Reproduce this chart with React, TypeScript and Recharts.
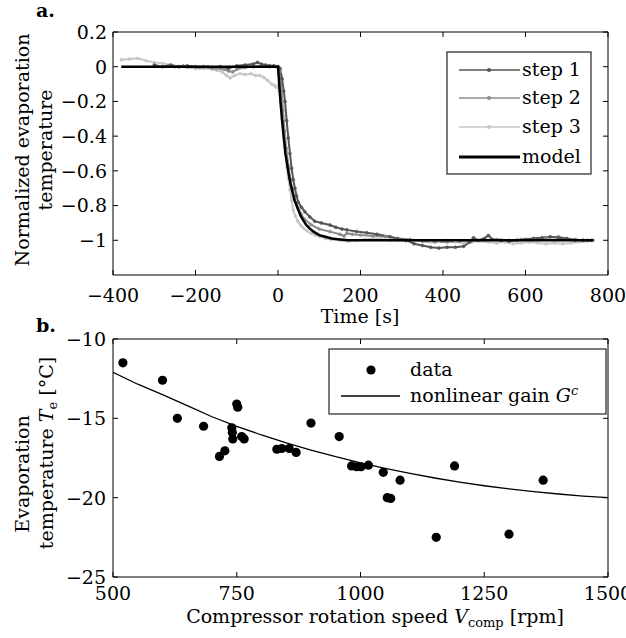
import React from "react";
import { ComposedChart, Line, Scatter, XAxis, YAxis, ReferenceLine } from "recharts";

const FONT = "'DejaVu Serif', serif";
const FS = 19;

// (a) normalized step responses: [time s, value]
const STEP1: [number, number][] = [
  [-300, 0.01], [-280, 0.0], [-260, 0.01], [-240, 0.0], [-220, 0.005], [-200, 0.0],
  [-180, 0.0], [-160, -0.005], [-140, 0.0], [-120, -0.01], [-100, 0.005], [-80, 0.01],
  [-60, 0.015], [-50, 0.025], [-40, 0.015], [-30, 0.01], [-20, 0.005], [-10, 0.005],
  [0, 0.0], [5, -0.01], [10, -0.07], [14, -0.14], [17, -0.2], [21, -0.31], [25, -0.41],
  [29, -0.5], [33, -0.585], [37, -0.65], [41, -0.7], [45, -0.745], [49, -0.78], [57, -0.81],
  [65, -0.835], [77, -0.865], [89, -0.89], [105, -0.9], [126, -0.912], [140, -0.925],
  [155, -0.935], [167, -0.94], [190, -0.95], [215, -0.956], [240, -0.965], [272, -0.979],
  [290, -0.99], [312, -1.0], [330, -1.02], [350, -1.03], [370, -1.04], [390, -1.045],
  [410, -1.04], [430, -1.04], [450, -1.035], [465, -1.01], [474, -0.985], [485, -1.0],
  [500, -0.99], [510, -0.972], [520, -0.995], [540, -1.0], [560, -1.005], [580, -1.0],
  [600, -0.995], [620, -0.99], [640, -0.985], [660, -0.98], [680, -0.985], [700, -0.99],
  [720, -1.0], [740, -1.0], [760, -1.0],
];

const STEP2: [number, number][] = [
  [-250, 0.0], [-230, 0.005], [-210, 0.0], [-190, -0.005], [-170, 0.0], [-150, -0.01],
  [-130, -0.015], [-120, -0.025], [-110, -0.03], [-100, -0.015], [-80, -0.005], [-60, 0.0],
  [-40, 0.005], [-20, 0.0], [-5, 0.0], [0, 0.0], [4, -0.03], [8, -0.12], [12, -0.25],
  [16, -0.37], [20, -0.47], [25, -0.57], [30, -0.65], [35, -0.71], [40, -0.76], [48, -0.81],
  [56, -0.85], [65, -0.88], [80, -0.91], [100, -0.935], [126, -0.95], [150, -0.965],
  [160, -0.975], [167, -0.96], [180, -0.965], [200, -0.97], [230, -0.975], [260, -0.98],
  [290, -0.99], [320, -0.995], [350, -1.005], [380, -1.01], [410, -1.01], [440, -1.005],
  [470, -1.0], [500, -1.0], [530, -0.995], [560, -1.0], [590, -0.995], [620, -0.99],
  [650, -0.985], [680, -0.98], [700, -0.99], [720, -0.995], [740, -1.0], [750, -1.0],
];

const STEP3: [number, number][] = [
  [-380, 0.04], [-360, 0.045], [-340, 0.048], [-320, 0.035], [-300, 0.025], [-280, 0.02],
  [-260, 0.01], [-240, 0.0], [-220, -0.005], [-200, -0.01], [-180, -0.01], [-160, -0.015],
  [-148, -0.02], [-135, -0.03], [-125, -0.05], [-116, -0.065], [-105, -0.05], [-92, -0.04],
  [-80, -0.045], [-65, -0.04], [-55, -0.05], [-44, -0.05], [-35, -0.06], [-25, -0.08],
  [-15, -0.1], [-8, -0.11], [-3, -0.12], [0, -0.11], [3, -0.14], [6, -0.2], [10, -0.3],
  [14, -0.4], [18, -0.5], [22, -0.58], [25, -0.64], [29, -0.71], [33, -0.77], [37, -0.826],
  [42, -0.86], [48, -0.89], [55, -0.915], [62, -0.93], [70, -0.945], [80, -0.96],
  [90, -0.97], [102, -0.98], [115, -0.99], [130, -0.995], [150, -1.0], [170, -1.005],
  [190, -1.0], [210, -0.995], [230, -0.99], [250, -0.995], [270, -1.0], [290, -1.0],
  [310, -1.005], [330, -1.0], [350, -1.005], [370, -1.01], [390, -1.005], [410, -1.0],
  [430, -1.01], [450, -1.015], [470, -1.01], [490, -1.005], [510, -1.01], [530, -1.015],
  [550, -1.01], [570, -1.02], [590, -1.015], [610, -1.01], [630, -1.015], [650, -1.02],
  [670, -1.015], [690, -1.02], [710, -1.015], [730, -1.01], [750, -1.005], [765, -1.0],
];

const MODEL: [number, number][] = [
  [-380, 0], [0, 0], [3, -0.1], [6, -0.2], [10, -0.31], [14, -0.41], [18, -0.5],
  [22, -0.56], [26, -0.62], [30, -0.67], [35, -0.72], [40, -0.77], [45, -0.8], [50, -0.83],
  [55, -0.86], [60, -0.88], [68, -0.91], [76, -0.93], [86, -0.95], [100, -0.97],
  [115, -0.98], [130, -0.99], [150, -0.995], [170, -1.0], [765, -1.0],
];

const TIME_TICKS = [-400, -200, 0, 200, 400, 600, 800];
const NORM_TICKS = [-1, -0.8, -0.6, -0.4, -0.2, 0, 0.2];

// (b) evaporation temperature vs compressor speed
const SPEED = [520, 600, 630, 683, 715, 726, 740, 741, 742, 750, 752, 760, 765, 831, 841, 856,
  870, 900, 957, 982, 992, 1001, 1016, 1046, 1054, 1061, 1080, 1153, 1190, 1300, 1369];
const TEVAP = [-11.5, -12.6, -15.0, -15.5, -17.4, -17.05, -15.6, -15.9, -16.3, -14.1, -14.3,
  -16.15, -16.3, -16.95, -16.9, -16.9, -17.15, -15.3, -16.15, -18.0, -18.05, -18.05, -17.95,
  -18.4, -20.0, -20.05, -18.9, -22.5, -18.0, -22.3, -18.9];

const GAIN_SPEED = [500, 550, 600, 650, 700, 750, 800, 850, 900, 950, 1000, 1050, 1100, 1150,
  1200, 1250, 1300, 1350, 1400, 1450, 1500];
const GAIN_TEMP = [-12.1, -12.85, -13.5, -14.2, -14.9, -15.5, -16.05, -16.55, -17.0, -17.42,
  -17.8, -18.15, -18.47, -18.76, -19.02, -19.25, -19.45, -19.62, -19.77, -19.9, -20.0];

const SPEED_TICKS = [500, 750, 1000, 1250, 1500];
const TEMP_TICKS = [-25, -20, -15, -10];

const toPts = (a: [number, number][]) => a.map(([t, v]) => ({ t, v }));
const fmt = (v: number) => (v < 0 ? "\u2212" : "") + String(Math.abs(v));

const W = 495;

function xTick(h: number, off: number) {
  return (props: any) => {
    const { x, y, payload } = props;
    return (
      <g>
        <line x1={x} x2={x} y1={y} y2={y - 5} stroke="#000" />
        <line x1={x} x2={x} y1={y - h} y2={y - h + 5} stroke="#000" />
        <text x={x} y={y + off} textAnchor="middle" fontFamily={FONT} fontSize={FS} fill="#000">
          {fmt(payload.value)}
        </text>
      </g>
    );
  };
}

function yTick(gap: number) {
  return (props: any) => {
    const { x, y, payload } = props;
    return (
      <g>
        <line x1={x} x2={x + 5} y1={y} y2={y} stroke="#000" />
        <line x1={x + W} x2={x + W - 5} y1={y} y2={y} stroke="#000" />
        <text x={x - gap} y={y} dy="0.36em" textAnchor="end" fontFamily={FONT} fontSize={FS} fill="#000">
          {fmt(payload.value)}
        </text>
      </g>
    );
  };
}

const dotOf = (c: string) => ({ r: 1.5, fill: c, stroke: c, strokeWidth: 0.5 });

const TOP_MARGIN = { top: 32, right: 18, bottom: 10, left: 53 };

function TopChart() {
  return (
    <ComposedChart width={626} height={330} margin={TOP_MARGIN}>
      <XAxis type="number" dataKey="t" domain={[-400, 800]} ticks={TIME_TICKS} interval={0}
        allowDataOverflow height={45} tickSize={0} tickMargin={0} tickLine={false}
        axisLine={{ stroke: "#000" }} tick={xTick(243, 27)} />
      <YAxis type="number" domain={[-1.2, 0.2]} ticks={NORM_TICKS} interval={0}
        allowDataOverflow width={60} tickSize={0} tickMargin={0} tickLine={false}
        axisLine={{ stroke: "#000" }} tick={yTick(6)} />
      <ReferenceLine y={0.2} stroke="#000" />
      <ReferenceLine x={800} stroke="#000" />
      <Line data={toPts(STEP3)} dataKey="v" stroke="#c6c6c6" strokeWidth={2}
        dot={dotOf("#c6c6c6")} isAnimationActive={false} />
      <Line data={toPts(STEP2)} dataKey="v" stroke="#8c8c8c" strokeWidth={2}
        dot={dotOf("#8c8c8c")} isAnimationActive={false} />
      <Line data={toPts(STEP1)} dataKey="v" stroke="#555555" strokeWidth={2}
        dot={dotOf("#555555")} isAnimationActive={false} />
    </ComposedChart>
  );
}

// model drawn in its own chart on top, so the step dots do not cover it
function ModelChart() {
  return (
    <ComposedChart width={626} height={330} margin={TOP_MARGIN}>
      <XAxis type="number" dataKey="t" domain={[-400, 800]} ticks={TIME_TICKS}
        allowDataOverflow height={45} tick={false} axisLine={false} tickLine={false} />
      <YAxis type="number" domain={[-1.2, 0.2]} ticks={NORM_TICKS}
        allowDataOverflow width={60} tick={false} axisLine={false} tickLine={false} />
      <Line data={toPts(MODEL)} dataKey="v" stroke="#000" strokeWidth={2.5}
        dot={false} isAnimationActive={false} />
    </ComposedChart>
  );
}

function BottomChart() {
  const pts = SPEED.map((x, i) => ({ x, y: TEVAP[i] }));
  const gain = GAIN_SPEED.map((x, i) => ({ x, y: GAIN_TEMP[i] }));
  return (
    <ComposedChart width={626} height={328} margin={{ top: 29, right: 18, bottom: 16, left: 53 }}>
      <XAxis type="number" dataKey="x" domain={[500, 1500]} ticks={SPEED_TICKS} interval={0}
        allowDataOverflow height={45} tickSize={0} tickMargin={0} tickLine={false}
        axisLine={{ stroke: "#000" }} tick={xTick(238, 23)} />
      <YAxis type="number" dataKey="y" domain={[-25, -10]} ticks={TEMP_TICKS} interval={0}
        allowDataOverflow width={60} tickSize={0} tickMargin={0} tickLine={false}
        axisLine={{ stroke: "#000" }} tick={yTick(7)} />
      <ReferenceLine y={-10} stroke="#000" />
      <ReferenceLine x={1500} stroke="#000" />
      <Line data={gain} dataKey="y" stroke="#000" strokeWidth={1.3} dot={false}
        isAnimationActive={false} />
      <Scatter data={pts} dataKey="y" fill="#000" isAnimationActive={false}
        shape={(p: any) => <circle cx={p.cx} cy={p.cy} r={4.6} fill="#000" />} />
    </ComposedChart>
  );
}

const txt = { fontFamily: FONT, fontSize: FS, fill: "#000" } as const;

function Overlay() {
  const steps = [
    { label: "step 1", color: "#555555", y: 70 },
    { label: "step 2", color: "#8c8c8c", y: 98 },
    { label: "step 3", color: "#c6c6c6", y: 127 },
  ];
  return (
    <svg width={626} height={638} style={{ position: "absolute", left: 0, top: 0, pointerEvents: "none" }}>
      <text x={36} y={17} {...txt} fontWeight="bold">a.</text>
      <text x={36} y={332} {...txt} fontWeight="bold">b.</text>

      <text x={29} y={150} transform="rotate(-90 29 150)" textAnchor="middle" {...txt}>
        Normalized evaporation
      </text>
      <text x={52} y={150} transform="rotate(-90 52 150)" textAnchor="middle" {...txt}>
        temperature
      </text>
      <text x={360} y={323} textAnchor="middle" {...txt}>Time [s]</text>

      <text x={29} y={474} transform="rotate(-90 29 474)" textAnchor="middle" {...txt}>
        Evaporation
      </text>
      <text x={53} y={453} transform="rotate(-90 53 453)" textAnchor="middle" {...txt}>
        temperature <tspan fontStyle="italic">T</tspan>
        <tspan fontSize={13} dy={4}>e</tspan>
        <tspan dy={-4}> [°C]</tspan>
      </text>
      <text x={375} y={623} textAnchor="middle" {...txt}>
        Compressor rotation speed <tspan fontStyle="italic">V</tspan>
        <tspan fontSize={13} dy={4}>comp</tspan>
        <tspan dy={-4}> [rpm]</tspan>
      </text>

      {/* legend a */}
      <rect x={447} y={52} width={144} height={122} fill="#fff" stroke="#222" strokeWidth={1.2} />
      {steps.map((s) => (
        <g key={s.label}>
          <line x1={459} x2={520} y1={s.y} y2={s.y} stroke={s.color} strokeWidth={1.3} />
          <circle cx={489} cy={s.y} r={2} fill={s.color} />
          <text x={522} y={s.y} dy="0.33em" {...txt}>{s.label}</text>
        </g>
      ))}
      <line x1={459} x2={520} y1={157} y2={157} stroke="#000" strokeWidth={3} />
      <text x={522} y={157} dy="0.33em" {...txt}>model</text>

      {/* legend b */}
      <rect x={329} y={349} width={277} height={65} fill="#fff" stroke="#222" strokeWidth={1.2} />
      <circle cx={371} cy={370} r={4.6} fill="#000" />
      <text x={410} y={370} dy="0.33em" {...txt}>data</text>
      <line x1={341} x2={400} y1={396} y2={396} stroke="#000" strokeWidth={1.3} />
      <text x={410} y={396} dy="0.33em" {...txt}>
        nonlinear gain <tspan fontStyle="italic">G</tspan>
        <tspan fontStyle="italic" fontSize={13} dy={-7}>c</tspan>
      </text>
    </svg>
  );
}

export default function App() {
  return (
    <div style={{ position: "absolute", left: 0, top: 0, width: 626, height: 638, background: "#fff", overflow: "hidden" }}>
      <div style={{ position: "absolute", left: 0, top: 0 }}>
        <TopChart />
      </div>
      <div style={{ position: "absolute", left: 0, top: 0 }}>
        <ModelChart />
      </div>
      <div style={{ position: "absolute", left: 0, top: 310 }}>
        <BottomChart />
      </div>
      <Overlay />
    </div>
  );
}
